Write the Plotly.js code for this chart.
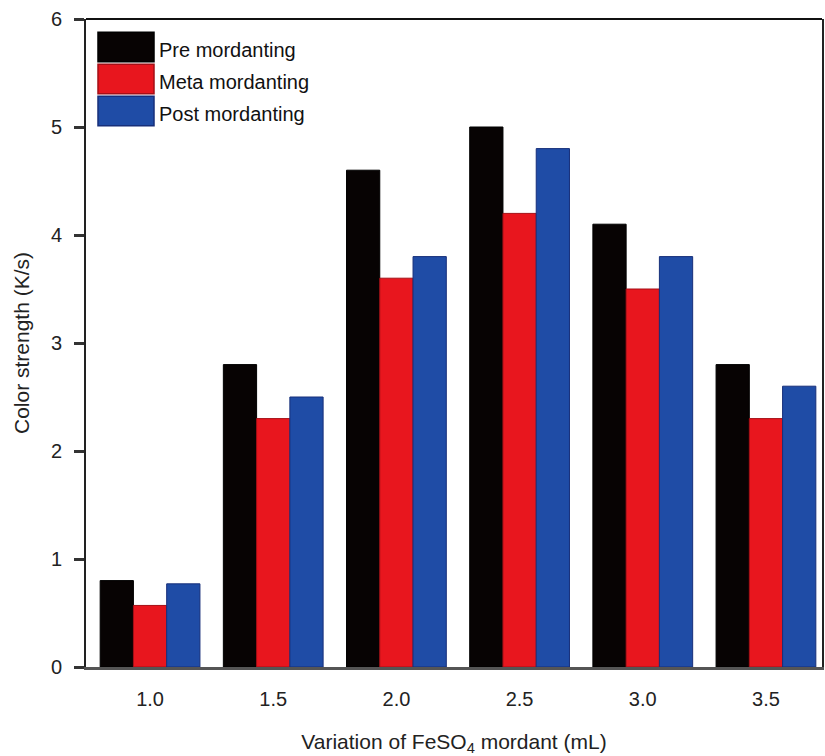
<!DOCTYPE html>
<html>
<head>
<meta charset="utf-8">
<script src="https://cdn.plot.ly/plotly-3.0.1.min.js"></script>
<style>html,body{margin:0;padding:0;background:#fff;}#chart{width:825px;height:756px;}</style>
</head>
<body>
<div id="chart"></div>
<script>
// Data
var categories = ['1.0', '1.5', '2.0', '2.5', '3.0', '3.5'];
var seriesNames = ['Pre mordanting', 'Meta mordanting', 'Post mordanting'];
var preValues  = [0.80, 2.80, 4.60, 5.00, 4.10, 2.80];
var metaValues = [0.57, 2.30, 3.60, 4.20, 3.50, 2.30];
var postValues = [0.77, 2.50, 3.80, 4.80, 3.80, 2.60];
var yTickVals = [0, 1, 2, 3, 4, 5, 6];

var fillColors = ['#070303', '#e8161e', '#1f4ca6'];
var edgeColors = ['#000000', '#a50f16', '#172f7a'];
var allValues = [preValues, metaValues, postValues];

var FONT = 'Liberation Sans, Arial, Helvetica, sans-serif';

var traces = allValues.map(function (vals, i) {
  return {
    type: 'bar',
    name: seriesNames[i],
    x: categories,
    y: vals,
    marker: { color: fillColors[i], line: { color: edgeColors[i], width: 1 } },
    showlegend: false,
    hoverinfo: 'x+y+name'
  };
});

// Legend drawn as boxes + text (large swatches like the reference)
var shapes = [];
var annotations = [];
var boxX0 = 0.0163, boxX1 = 0.0924, textX = 0.0965;
var rowCenters = [0.9568, 0.9074, 0.858];
var halfH = 0.0228;
seriesNames.forEach(function (name, i) {
  shapes.push({
    type: 'rect', xref: 'paper', yref: 'paper',
    x0: boxX0, x1: boxX1, y0: rowCenters[i] - halfH, y1: rowCenters[i] + halfH,
    fillcolor: fillColors[i], line: { color: edgeColors[i], width: 1.5 }
  });
  annotations.push({
    xref: 'paper', yref: 'paper', x: textX, y: rowCenters[i] - 0.004,
    xanchor: 'left', yanchor: 'middle', showarrow: false,
    text: name, font: { family: FONT, size: 20, color: '#111' }
  });
});
// top frame line
shapes.push({
  type: 'line', xref: 'paper', yref: 'paper', x0: 0, x1: 1, y0: 1, y1: 1,
  line: { color: '#111', width: 2 }
});

var layout = {
  width: 825,
  height: 756,
  margin: { l: 86, r: 3, t: 19, b: 89 },
  paper_bgcolor: '#ffffff',
  plot_bgcolor: '#ffffff',
  barmode: 'group',
  bargap: 0.19,
  bargroupgap: 0,
  font: { family: FONT, size: 20, color: '#222' },
  xaxis: {
    type: 'category',
    range: [-0.52, 5.455],
    showgrid: false,
    zeroline: false,
    showline: true,
    linecolor: '#555',
    linewidth: 3,
    ticks: '',
    ticklabelstandoff: 12,
    tickfont: { family: FONT, size: 20, color: '#222' },
    title: { text: 'Variation of FeSO<sub>4</sub> mordant (mL)', font: { family: FONT, size: 21, color: '#222' }, standoff: 30 },
    fixedrange: true
  },
  yaxis: {
    range: [0, 6],
    tickvals: yTickVals,
    ticktext: yTickVals.map(String),
    showgrid: false,
    zeroline: false,
    showline: true,
    mirror: true,
    linecolor: '#222',
    linewidth: 2,
    ticks: 'outside',
    ticklen: 10,
    tickwidth: 3,
    tickcolor: '#333',
    ticklabelstandoff: 8,
    tickfont: { family: FONT, size: 20, color: '#222' },
    title: { text: 'Color strength (K/s)', font: { family: FONT, size: 21, color: '#222' }, standoff: 16 },
    fixedrange: true
  },
  shapes: shapes,
  annotations: annotations,
  showlegend: false
};

Plotly.newPlot('chart', traces, layout, { displayModeBar: false, staticPlot: true });
</script>
</body>
</html>
